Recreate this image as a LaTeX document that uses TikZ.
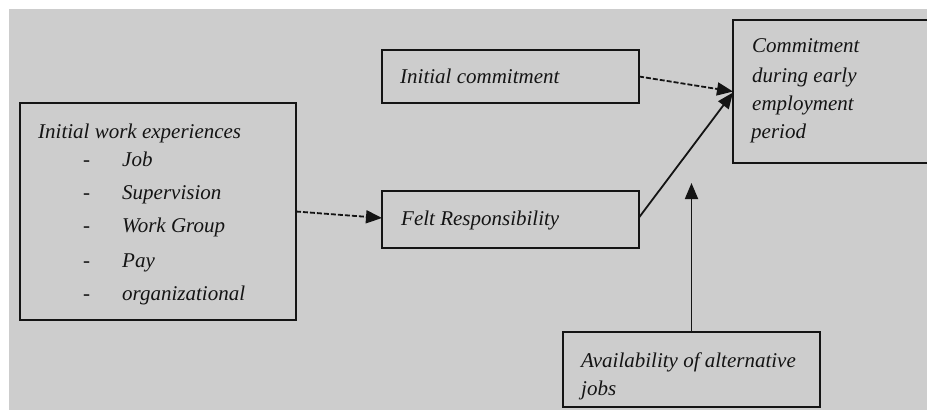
\documentclass[tikz,border=0pt]{standalone}
\usepackage{fontspec}
\setmainfont{Liberation Serif}
\usetikzlibrary{arrows.meta,calc}
\definecolor{panel}{HTML}{CDCDCD}
\definecolor{ink}{HTML}{141414}
\tikzset{
  box/.style={draw=ink, line width=2pt, fill=panel, anchor=north west,
    inner sep=0pt, outer sep=0pt},
  label/.style={anchor=base west, inner sep=0pt, text=ink,
    font=\itshape\fontsize{21}{24}\selectfont},
  link/.style={draw=ink, line width=1.8pt, -{Triangle[length=16pt,width=13pt]}},
  dashlink/.style={link, dash pattern=on 5pt off 2pt},
}
\begin{document}
\begin{tikzpicture}[x=1pt, y=-1pt]
  \useasboundingbox (0,0) rectangle (927,410);
  \fill[panel] (9,9) rectangle (927,410);

  % boxes
  \node[box, minimum width=276pt, minimum height=217pt] (exp)  at (20,103) {};
  \node[box, minimum width=257pt, minimum height=53pt]  (init) at (382,50) {};
  \node[box, minimum width=257pt, minimum height=57pt]  (felt) at (382,191) {};
  \node[box, minimum width=210pt, minimum height=143pt] (out)  at (733,20) {};
  \node[box, minimum width=257pt, minimum height=75pt]  (alt)  at (563,332) {};

  % list of early experiences
  \node[label] (expT) at (38,138) {Initial work experiences};
  \foreach \name/\txt/\yy in {j/Job/166, s/Supervision/199, w/Work Group/232,
                              p/Pay/267, o/organizational/300} {
    \node[label] (dash\name) at (83,\yy) {-};
    \node[label] (item\name) at (122,\yy) {\txt};
  }

  % other labels
  \node[label] (initT) at (400,83)  {Initial commitment};
  \node[label] (feltT) at (401,225) {Felt Responsibility};
  \node[label] (outA)  at (752,52)  {Commitment};
  \node[label] (outB)  at (752,82)  {during early};
  \node[label] (outC)  at (752,110) {employment};
  \node[label] (outD)  at (751,138) {period};
  \node[label] (altA)  at (581,367) {Availability of alternative};
  \node[label] (altB)  at (581,395) {jobs};

  % connectors
  \coordinate (outin) at ($(out.north west)!0.5!(out.south west)$);
  \coordinate (tip) at ($(alt.north |- out.south)+(0,20)$);
  \draw[dashlink] (exp.east) -- ($(felt.west)+(0,-1.5)$);
  \draw[dashlink] (init.east) -- (outin);
  \draw[link] ($(felt.east)+(0,-2)$) -- ($(outin)+(0,1)$);
  \draw[link] (alt.north) -- (tip);
\end{tikzpicture}
\end{document}
